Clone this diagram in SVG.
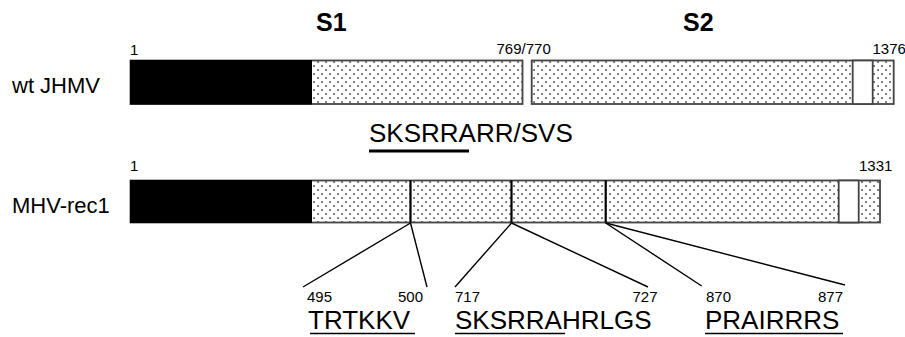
<svg xmlns="http://www.w3.org/2000/svg" width="905" height="337" viewBox="0 0 905 337">
<defs>
<pattern id="dots" width="8" height="8" patternUnits="userSpaceOnUse">
<rect width="8" height="8" fill="#fff"/>
<rect x="1.3" y="1.3" width="1.5" height="1.5" fill="#222"/>
<rect x="5.3" y="5.3" width="1.5" height="1.5" fill="#222"/>
</pattern>
<style>
text{font-family:"Liberation Sans",Arial,Helvetica,sans-serif;fill:#000}
.t{font-size:22px}
.h{font-size:25px;font-weight:bold}
.n{font-size:15px}
.s{font-size:26px}
.bar{fill:url(#dots);stroke:#444;stroke-width:1.8}
.blk{fill:#000}
.wb{fill:#fff;stroke:#444;stroke-width:1.8}
.div{stroke:#000;stroke-width:2.2}
.ln{stroke:#000;stroke-width:1.4;fill:none}
.ul{stroke:#000;stroke-width:1.5}
</style>
</defs>
<g id="headers">
<text class="h" x="316" y="31">S1</text>
<text class="h" x="683" y="31">S2</text>
</g>
<g id="wt">
<text class="t" x="12" y="93">wt JHMV</text>
<text class="n" x="130" y="55">1</text>
<text class="n" x="496.5" y="54">769/770</text>
<text class="n" x="872.5" y="54">1376</text>
<rect class="bar" x="130.5" y="60.5" width="392" height="43.5"/>
<rect class="blk" x="130" y="60" width="182" height="44.5"/>
<rect class="bar" x="531.7" y="60.5" width="362" height="43.5"/>
<rect class="wb" x="852.7" y="60.5" width="20" height="43.5"/>
</g>
<g id="cleavage">
<text class="s" x="369" y="142">SKSRRARR/SVS</text>
<line x1="369" y1="151" x2="469" y2="151" stroke="#000" stroke-width="3"/>
</g>
<g id="rec1">
<text class="t" x="12" y="213">MHV-rec1</text>
<text class="n" x="130" y="171">1</text>
<text class="n" x="859" y="171">1331</text>
<rect class="bar" x="130.5" y="180.5" width="749.5" height="42"/>
<rect class="blk" x="130" y="180" width="182" height="43"/>
<rect class="wb" x="838.7" y="180.5" width="20" height="42"/>
<line class="div" x1="410.5" y1="180.5" x2="410.5" y2="222.5"/>
<line class="div" x1="511.5" y1="180.5" x2="511.5" y2="222.5"/>
<line class="div" x1="605.7" y1="180.5" x2="605.7" y2="222.5"/>
</g>
<g id="connectors">
<line class="ln" x1="410.5" y1="223" x2="303" y2="287"/>
<line class="ln" x1="410.5" y1="223" x2="427" y2="287"/>
<line class="ln" x1="511.5" y1="223" x2="455" y2="287"/>
<line class="ln" x1="511.5" y1="223" x2="648" y2="287"/>
<line class="ln" x1="605.7" y1="223" x2="701.7" y2="286"/>
<line class="ln" x1="605.7" y1="223" x2="845" y2="285"/>
</g>
<g id="site1">
<text class="n" x="307" y="302">495</text>
<text class="n" x="398" y="302">500</text>
<text class="s" x="308" y="329">TRTKKV</text>
<line class="ul" x1="310" y1="333.5" x2="415" y2="333.5"/>
</g>
<g id="site2">
<text class="n" x="455" y="302">717</text>
<text class="n" x="632.5" y="302">727</text>
<text class="s" x="455" y="329">SKSRRAHRLGS</text>
<line class="ul" x1="455" y1="333.5" x2="565" y2="333.5"/>
</g>
<g id="site3">
<text class="n" x="706" y="302">870</text>
<text class="n" x="818" y="302">877</text>
<text class="s" x="705" y="329">PRAIRRRS</text>
<line class="ul" x1="705" y1="333.5" x2="843" y2="333.5"/>
</g>
</svg>
